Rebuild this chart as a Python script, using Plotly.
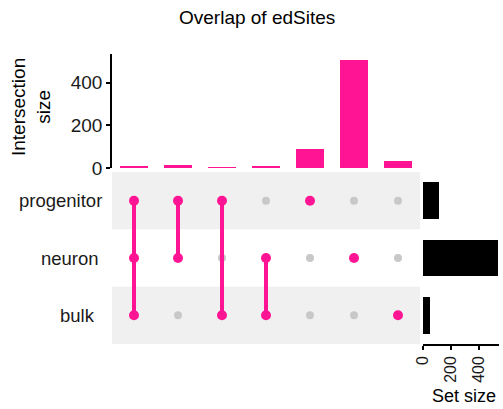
import plotly.graph_objects as go

# Sets shown as matrix rows (top to bottom) and the intersections shown as columns
sets = ["progenitor", "neuron", "bulk"]
intersections = [
    ["progenitor", "neuron", "bulk"],
    ["progenitor", "neuron"],
    ["progenitor", "bulk"],
    ["neuron", "bulk"],
    ["progenitor"],
    ["neuron"],
    ["bulk"],
]
intersection_sizes = [5, 15, 4, 6, 90, 505, 33]
size_ticks = [0, 200, 400]
set_size_ticks = [0, 200, 400]

# Each set's total is the sum of the intersections it takes part in
set_sizes = [
    sum(n for members, n in zip(intersections, intersection_sizes) if s in members)
    for s in sets
]

W, H = 503, 409
PINK = "#FF1493"
INACTIVE = "#C8C8C8"
BAND = "#F0F0F0"
FONT = "Liberation Sans, Arial, sans-serif"


def fx(px):
    return px / W


def fy(py):
    return 1 - py / H


cols = list(range(len(intersections)))
row_of = {s: len(sets) - 1 - i for i, s in enumerate(sets)}

fig = go.Figure()

# Intersection size bars
fig.add_trace(go.Bar(
    x=cols, y=intersection_sizes, width=0.65,
    marker=dict(color=PINK, line=dict(width=0)),
    xaxis="x", yaxis="y", hoverinfo="skip",
))

# Inactive (grey) dots of the membership matrix
gx, gy = [], []
for c, members in zip(cols, intersections):
    for s in sets:
        if s not in members:
            gx.append(c)
            gy.append(row_of[s])
fig.add_trace(go.Scatter(
    x=gx, y=gy, mode="markers",
    marker=dict(color=INACTIVE, size=8, line=dict(width=0)),
    xaxis="x2", yaxis="y2", hoverinfo="skip",
))

# Active dots joined by a vertical line per intersection
for c, members in zip(cols, intersections):
    ys = sorted(row_of[s] for s in members)
    fig.add_trace(go.Scatter(
        x=[c] * len(ys), y=ys, mode="lines+markers",
        line=dict(color=PINK, width=4),
        marker=dict(color=PINK, size=10, line=dict(width=0)),
        xaxis="x2", yaxis="y2", hoverinfo="skip",
    ))

# Set size bars
fig.add_trace(go.Bar(
    x=set_sizes, y=[row_of[s] for s in sets], orientation="h", width=0.64,
    marker=dict(color="black", line=dict(width=0)),
    xaxis="x3", yaxis="y3", hoverinfo="skip",
))

# Alternating row bands behind the matrix
shapes = []
for i, s in enumerate(sets):
    if i % 2 == 0:
        r = row_of[s]
        shapes.append(dict(
            type="rect", xref="paper", yref="y2",
            x0=fx(112), x1=fx(420), y0=r - 0.5, y1=r + 0.5,
            fillcolor=BAND, line=dict(width=0), layer="below",
        ))

annotations = [
    dict(text="Overlap of edSites", x=fx(257), y=fy(18), xref="paper", yref="paper",
         showarrow=False, font=dict(size=19, color="black"), xanchor="center", yanchor="middle"),
    dict(text="Intersection<br>size", x=fx(31), y=fy(107), xref="paper", yref="paper",
         showarrow=False, textangle=-90, font=dict(size=19, color="black"),
         xanchor="center", yanchor="middle"),
    dict(text="Set size", x=fx(464), y=fy(396), xref="paper", yref="paper",
         showarrow=False, font=dict(size=18, color="black"), xanchor="center", yanchor="middle"),
]
label_right = {"progenitor": 104, "neuron": 101, "bulk": 97}
for s in sets:
    annotations.append(dict(
        text=s, x=fx(label_right[s]), y=row_of[s], xref="paper", yref="y2",
        showarrow=False, font=dict(size=18.5, color="#1a1a1a"),
        xanchor="right", yanchor="middle",
    ))

x_dom = [fx(112), fx(420)]
m_dom = [fy(344), fy(172)]
xr = [-0.5, len(intersections) - 0.5]

fig.update_layout(
    template="none",
    width=W, height=H, autosize=False,
    margin=dict(l=0, r=0, t=0, b=0, pad=0),
    paper_bgcolor="white", plot_bgcolor="rgba(0,0,0,0)",
    showlegend=False, bargap=0,
    font=dict(family=FONT, size=19, color="black"),
    shapes=shapes, annotations=annotations,
    xaxis=dict(domain=x_dom, range=xr, visible=False, automargin=False),
    yaxis=dict(domain=[fy(168), fy(54)], range=[0, 535], anchor="x", automargin=False,
               tickvals=size_ticks, ticks="outside", ticklen=4, tickwidth=1.5,
               tickcolor="black", showline=True, linecolor="black", linewidth=1.5,
               showgrid=False, zeroline=False, tickfont=dict(size=19, color="#1a1a1a")),
    xaxis2=dict(domain=x_dom, range=xr, anchor="y2", visible=False, automargin=False),
    yaxis2=dict(domain=m_dom, range=[-0.5, len(sets) - 0.5], anchor="x2",
                visible=False, automargin=False),
    xaxis3=dict(domain=[fx(423), fx(499)], range=[0, 540], anchor="y3", automargin=False,
                tickvals=set_size_ticks, ticks="outside", ticklen=4, tickwidth=1.5,
                tickcolor="black", showline=True, linecolor="black", linewidth=1.5,
                tickangle=-90, showgrid=False, zeroline=False,
                tickfont=dict(size=16, color="#1a1a1a")),
    yaxis3=dict(domain=m_dom, range=[-0.5, len(sets) - 0.5], anchor="x3",
                visible=False, automargin=False),
)

fig.write_html("out.html")
